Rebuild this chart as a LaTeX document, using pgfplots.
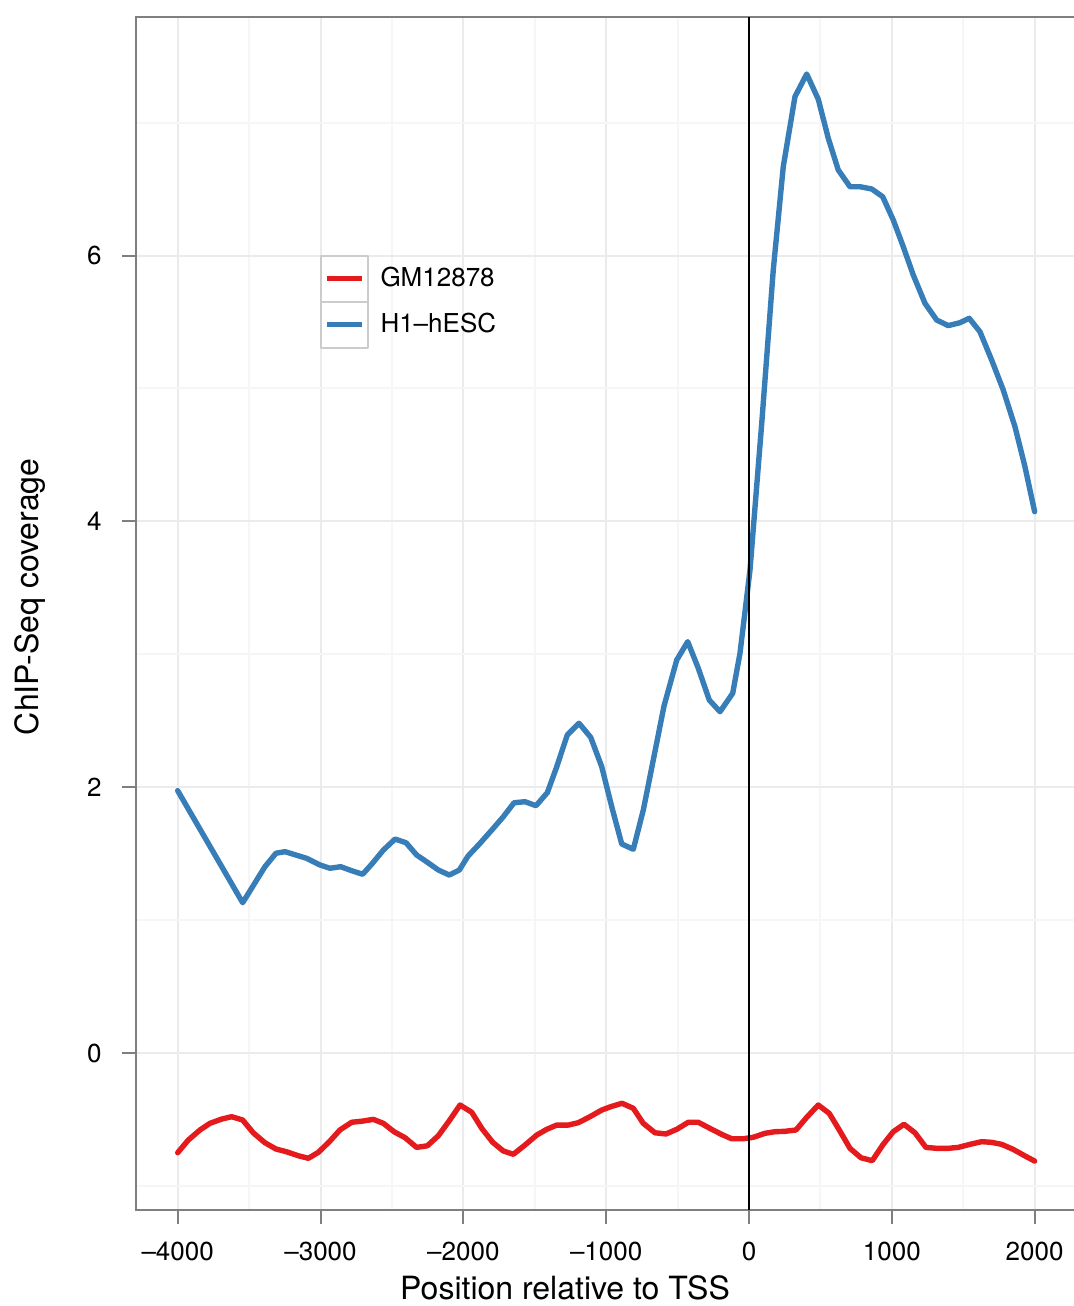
\documentclass[border=0pt]{standalone}
\usepackage{pgfplots}
\pgfplotsset{compat=1.18}
\usepackage{pgfplotstable}
\usepackage{fontspec}
\setmainfont{TeX Gyre Heros}
\definecolor{setred}{HTML}{E41A1C}
\definecolor{setblue}{HTML}{377EB8}
\definecolor{gridmaj}{HTML}{EBEBEB}
\definecolor{gridmin}{HTML}{F6F6F6}
\definecolor{framegray}{HTML}{7F7F7F}
\definecolor{leggray}{HTML}{CCCCCC}

\pgfplotstableread{
x y
-4000 1.974
-3545 1.131
-3389 1.402
-3312 1.503
-3249 1.515
-3097 1.465
-3004 1.415
-2934 1.390
-2859 1.402
-2782 1.372
-2705 1.345
-2642 1.420
-2560 1.527
-2478 1.610
-2401 1.582
-2327 1.490
-2257 1.439
-2175 1.377
-2098 1.339
-2028 1.377
-1967 1.482
-1883 1.578
-1790 1.691
-1720 1.778
-1645 1.883
-1568 1.891
-1491 1.861
-1412 1.959
-1346 2.154
-1272 2.393
-1190 2.481
-1108 2.375
-1031 2.154
-961 1.853
-891 1.573
-810 1.533
-740 1.828
-670 2.205
-595 2.611
-506 2.957
-429 3.095
-355 2.895
-278 2.656
-203 2.568
-114 2.707
-63 3.008
7 3.634
91 4.763
170 5.892
240 6.669
322 7.196
404 7.366
485 7.176
555 6.883
625 6.644
707 6.518
777 6.518
859 6.501
936 6.443
1010 6.268
1080 6.067
1150 5.854
1232 5.641
1314 5.515
1395 5.473
1477 5.495
1542 5.528
1617 5.427
1699 5.214
1780 4.989
1862 4.713
1932 4.412
2000 4.073
}\hesc

\pgfplotstableread{
x y
-4000 -0.750
-3926 -0.655
-3844 -0.579
-3774 -0.529
-3692 -0.497
-3622 -0.479
-3545 -0.504
-3471 -0.600
-3389 -0.675
-3312 -0.722
-3237 -0.743
-3155 -0.773
-3085 -0.792
-3015 -0.747
-2938 -0.667
-2864 -0.579
-2782 -0.521
-2705 -0.512
-2630 -0.499
-2560 -0.529
-2485 -0.592
-2408 -0.637
-2327 -0.710
-2252 -0.698
-2175 -0.622
-2098 -0.509
-2023 -0.391
-1941 -0.446
-1871 -0.567
-1794 -0.672
-1720 -0.737
-1650 -0.762
-1568 -0.692
-1486 -0.617
-1416 -0.574
-1346 -0.542
-1265 -0.542
-1195 -0.524
-1113 -0.479
-1031 -0.429
-966 -0.403
-889 -0.378
-810 -0.416
-740 -0.529
-658 -0.600
-581 -0.609
-506 -0.574
-425 -0.521
-355 -0.521
-273 -0.567
-191 -0.612
-121 -0.645
-40 -0.645
30 -0.634
112 -0.604
182 -0.592
252 -0.589
329 -0.579
404 -0.484
485 -0.391
562 -0.454
632 -0.579
707 -0.717
784 -0.788
863 -0.810
936 -0.692
1010 -0.592
1085 -0.536
1162 -0.600
1239 -0.710
1314 -0.717
1395 -0.717
1465 -0.710
1547 -0.687
1629 -0.667
1699 -0.672
1769 -0.687
1850 -0.725
1920 -0.767
2000 -0.813
}\gm

\begin{document}
\begin{tikzpicture}
\begin{axis}[
  name=ax,
  scale only axis,
  width=482pt, height=596.5pt,
  xmin=-4291.8, xmax=2457.5,
  ymin=-1.181, ymax=7.795,
  axis line style={framegray, line width=1pt},
  tick style={framegray, line width=1pt},
  tick align=outside,
  major tick length=7pt,
  minor tick length=0pt,
  xtick pos=bottom, ytick pos=left,
  xtick={-4000,-3000,-2000,-1000,0,1000,2000},
  xticklabels={–4000,–3000,–2000,–1000,0,1000,2000},
  minor xtick={-3500,-2500,-1500,-500,500,1500},
  ytick={0,2,4,6},
  yticklabels={0,2,4,6},
  minor ytick={-1,1,3,5,7},
  grid=both,
  major grid style={gridmaj, line width=1pt},
  minor grid style={gridmin, line width=1pt},
  ticklabel style={font=\fontsize{13}{15}\selectfont},
  xticklabel style={anchor=north, inner sep=0pt, yshift=-9pt},
  yticklabel style={anchor=east, inner sep=0pt, xshift=-10pt},
  xlabel={Position relative to TSS},
  ylabel={ChIP-Seq coverage},
  every axis x label/.style={at={(axis description cs:0.445,-0.0654)}, anchor=center, font=\fontsize{16}{19}\selectfont},
  every axis y label/.style={at={(axis description cs:-0.110,0.514)}, anchor=center, rotate=90, font=\fontsize{16}{19}\selectfont},
  legend style={at={(axis description cs:0.1911,0.8009)}, anchor=north west,
    draw=none, fill=none, inner sep=0pt, outer sep=0pt, row sep=-1pt,
    font=\fontsize{13}{15}\selectfont, nodes={inner sep=0pt}},
  legend cell align=left,
  legend image code/.code={
    \draw[leggray, line width=1pt] (0pt,-11.5pt) rectangle (23.5pt,11.5pt);
    \draw[#1, line width=2.5pt, line cap=butt] (3pt,0pt) -- (20.5pt,0pt);
    \path (28.3pt,0pt);
  },
]
\addplot[setred, line width=2.7pt, line join=round, line cap=round] table[x=x,y=y] {\gm};
\addlegendentry{GM12878}
\addplot[setblue, line width=2.7pt, line join=round, line cap=round] table[x=x,y=y] {\hesc};
\addlegendentry{H1–hESC}
\addplot[black, line width=0.75pt, forget plot] coordinates {(0,-1.181) (0,7.795)};
\end{axis}
\pgfresetboundingbox
\path[use as bounding box] ([shift={(-68pt,-48pt)}]ax.south west) rectangle ([shift={(469pt,8.5pt)}]ax.north west);
\end{tikzpicture}
\end{document}
